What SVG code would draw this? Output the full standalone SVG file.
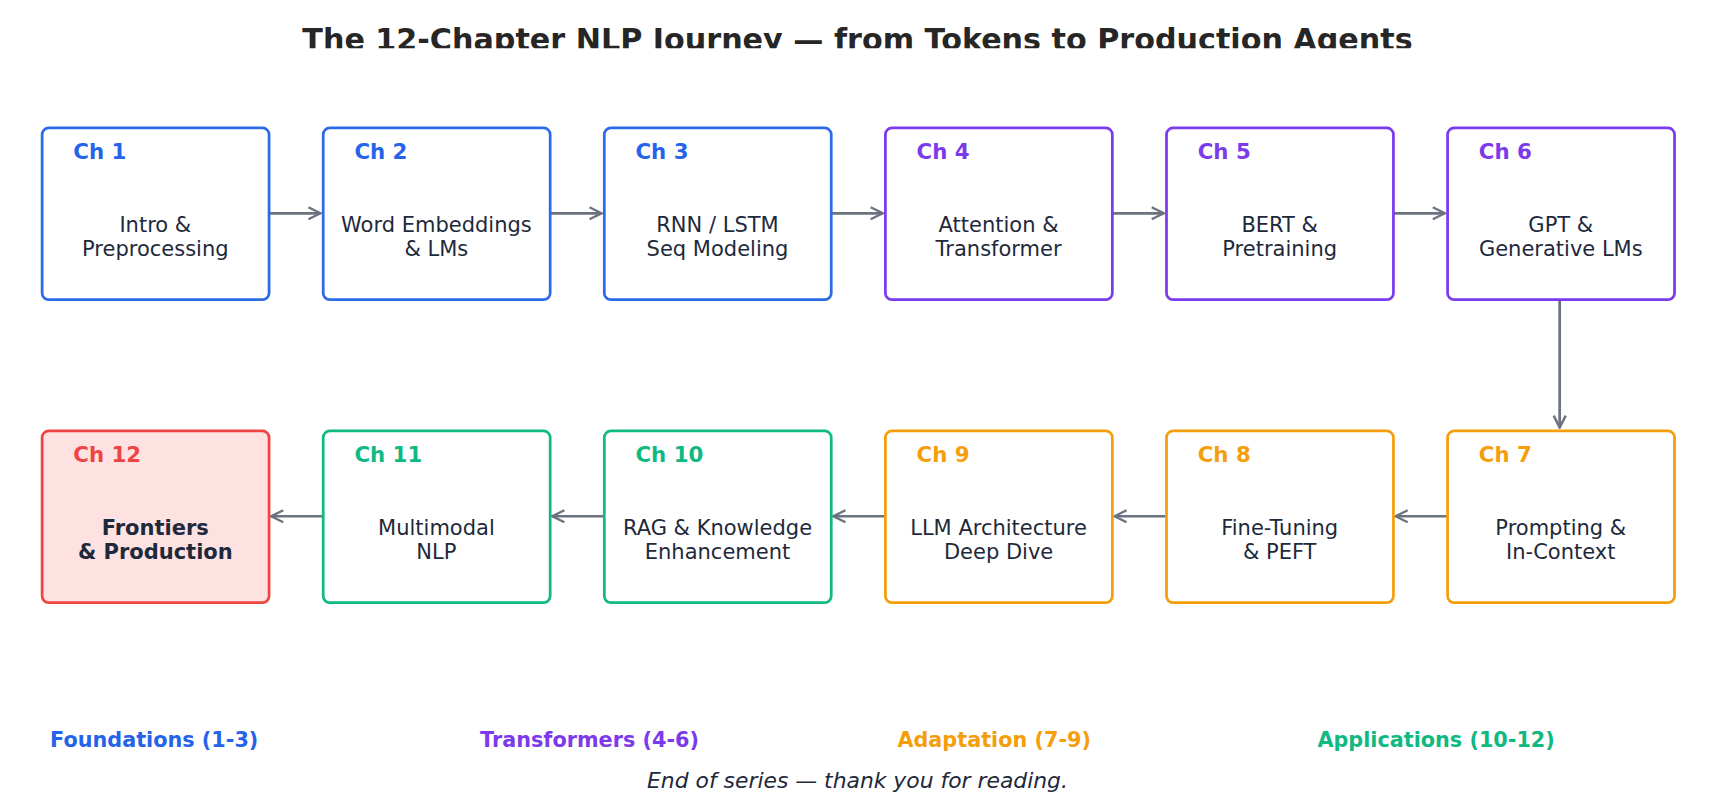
<svg xmlns="http://www.w3.org/2000/svg" width="1715" height="806" viewBox="0 0 1715 806">
<style>
text{font-family:"DejaVu Sans","Noto Sans",sans-serif}
.box{fill:#fff;stroke-width:2.5}
.ch{font-size:19.5px;font-weight:bold}
.body{font-size:19.2px;fill:#1e293b;text-anchor:middle}
.leg{font-size:19px;font-weight:bold;text-anchor:middle}
.con{stroke:#6b7280;stroke-width:2.5;fill:none;marker-end:url(#ah)}
.b{stroke:#2b6be6}.p{stroke:#7c3aed}.o{stroke:#f59e0b}.g{stroke:#10b981}
</style>
<defs>
<marker id="ah" viewBox="0 0 10 10" refX="9" refY="5" markerWidth="5.5" markerHeight="5.5" orient="auto" markerUnits="strokeWidth">
<path d="M1,1 L9,5 L1,9" fill="none" stroke="#6b7280" stroke-width="1.6"/>
</marker>
<clipPath id="tc"><rect x="0" y="0" width="1568" height="44"/></clipPath>
</defs>
<rect width="1715" height="806" fill="#fff"/>
<g transform="scale(1.09375)">
<text x="784" y="46" clip-path="url(#tc)" text-anchor="middle" font-size="27.6" font-weight="bold" fill="#262626">The 12-Chapter NLP Journey — from Tokens to Production Agents</text>
<g id="connectors">
<line class="con" x1="246" y1="195" x2="293" y2="195"/>
<line class="con" x1="503" y1="195" x2="550" y2="195"/>
<line class="con" x1="760" y1="195" x2="807" y2="195"/>
<line class="con" x1="1017" y1="195" x2="1064" y2="195"/>
<line class="con" x1="1274" y1="195" x2="1321" y2="195"/>
<line class="con" x1="1426" y1="274" x2="1426" y2="391"/>
<line class="con" x1="1323" y1="472" x2="1276" y2="472"/>
<line class="con" x1="1066" y1="472" x2="1019" y2="472"/>
<line class="con" x1="809" y1="472" x2="762" y2="472"/>
<line class="con" x1="552" y1="472" x2="505" y2="472"/>
<line class="con" x1="295" y1="472" x2="248" y2="472"/>
</g>
<g id="ch1"><rect class="box b" x="38.5" y="117" width="207.5" height="157" rx="6"/><text class="ch" x="67" y="145" fill="#2563eb">Ch 1</text><text class="body" x="142" y="212">Intro &amp;</text><text class="body" x="142" y="234">Preprocessing</text></g>
<g id="ch2"><rect class="box b" x="295.5" y="117" width="207.5" height="157" rx="6"/><text class="ch" x="324" y="145" fill="#2563eb">Ch 2</text><text class="body" x="399" y="212">Word Embeddings</text><text class="body" x="399" y="234">&amp; LMs</text></g>
<g id="ch3"><rect class="box b" x="552.5" y="117" width="207.5" height="157" rx="6"/><text class="ch" x="581" y="145" fill="#2563eb">Ch 3</text><text class="body" x="656" y="212">RNN / LSTM</text><text class="body" x="656" y="234">Seq Modeling</text></g>
<g id="ch4"><rect class="box p" x="809.5" y="117" width="207.5" height="157" rx="6"/><text class="ch" x="838" y="145" fill="#7c3aed">Ch 4</text><text class="body" x="913" y="212">Attention &amp;</text><text class="body" x="913" y="234">Transformer</text></g>
<g id="ch5"><rect class="box p" x="1066.5" y="117" width="207.5" height="157" rx="6"/><text class="ch" x="1095" y="145" fill="#7c3aed">Ch 5</text><text class="body" x="1170" y="212">BERT &amp;</text><text class="body" x="1170" y="234">Pretraining</text></g>
<g id="ch6"><rect class="box p" x="1323.5" y="117" width="207.5" height="157" rx="6"/><text class="ch" x="1352" y="145" fill="#7c3aed">Ch 6</text><text class="body" x="1427" y="212">GPT &amp;</text><text class="body" x="1427" y="234">Generative LMs</text></g>
<g id="ch7"><rect class="box o" x="1323.5" y="394" width="207.5" height="157" rx="6"/><text class="ch" x="1352" y="422" fill="#f59e0b">Ch 7</text><text class="body" x="1427" y="489">Prompting &amp;</text><text class="body" x="1427" y="511">In-Context</text></g>
<g id="ch8"><rect class="box o" x="1066.5" y="394" width="207.5" height="157" rx="6"/><text class="ch" x="1095" y="422" fill="#f59e0b">Ch 8</text><text class="body" x="1170" y="489">Fine-Tuning</text><text class="body" x="1170" y="511">&amp; PEFT</text></g>
<g id="ch9"><rect class="box o" x="809.5" y="394" width="207.5" height="157" rx="6"/><text class="ch" x="838" y="422" fill="#f59e0b">Ch 9</text><text class="body" x="913" y="489">LLM Architecture</text><text class="body" x="913" y="511">Deep Dive</text></g>
<g id="ch10"><rect class="box g" x="552.5" y="394" width="207.5" height="157" rx="6"/><text class="ch" x="581" y="422" fill="#10b981">Ch 10</text><text class="body" x="656" y="489">RAG &amp; Knowledge</text><text class="body" x="656" y="511">Enhancement</text></g>
<g id="ch11"><rect class="box g" x="295.5" y="394" width="207.5" height="157" rx="6"/><text class="ch" x="324" y="422" fill="#10b981">Ch 11</text><text class="body" x="399" y="489">Multimodal</text><text class="body" x="399" y="511">NLP</text></g>
<g id="ch12"><rect class="box" x="38.5" y="394" width="207.5" height="157" rx="6" style="fill:#fee2e2;stroke:#ef4444"/><text class="ch" x="67" y="422" fill="#ef4444">Ch 12</text><text class="body" x="142" y="489" font-weight="bold">Frontiers</text><text class="body" x="142" y="511" font-weight="bold">&amp; Production</text></g>
<g id="legend">
<text class="leg" x="141" y="683" fill="#2563eb">Foundations (1-3)</text>
<text class="leg" x="539" y="683" fill="#7c3aed">Transformers (4-6)</text>
<text class="leg" x="909" y="683" fill="#f59e0b">Adaptation (7-9)</text>
<text class="leg" x="1313" y="683" fill="#10b981">Applications (10-12)</text>
</g>
<text x="784" y="720" text-anchor="middle" font-size="20" font-style="italic" fill="#1e293b">End of series — thank you for reading.</text>
</g>
</svg>
